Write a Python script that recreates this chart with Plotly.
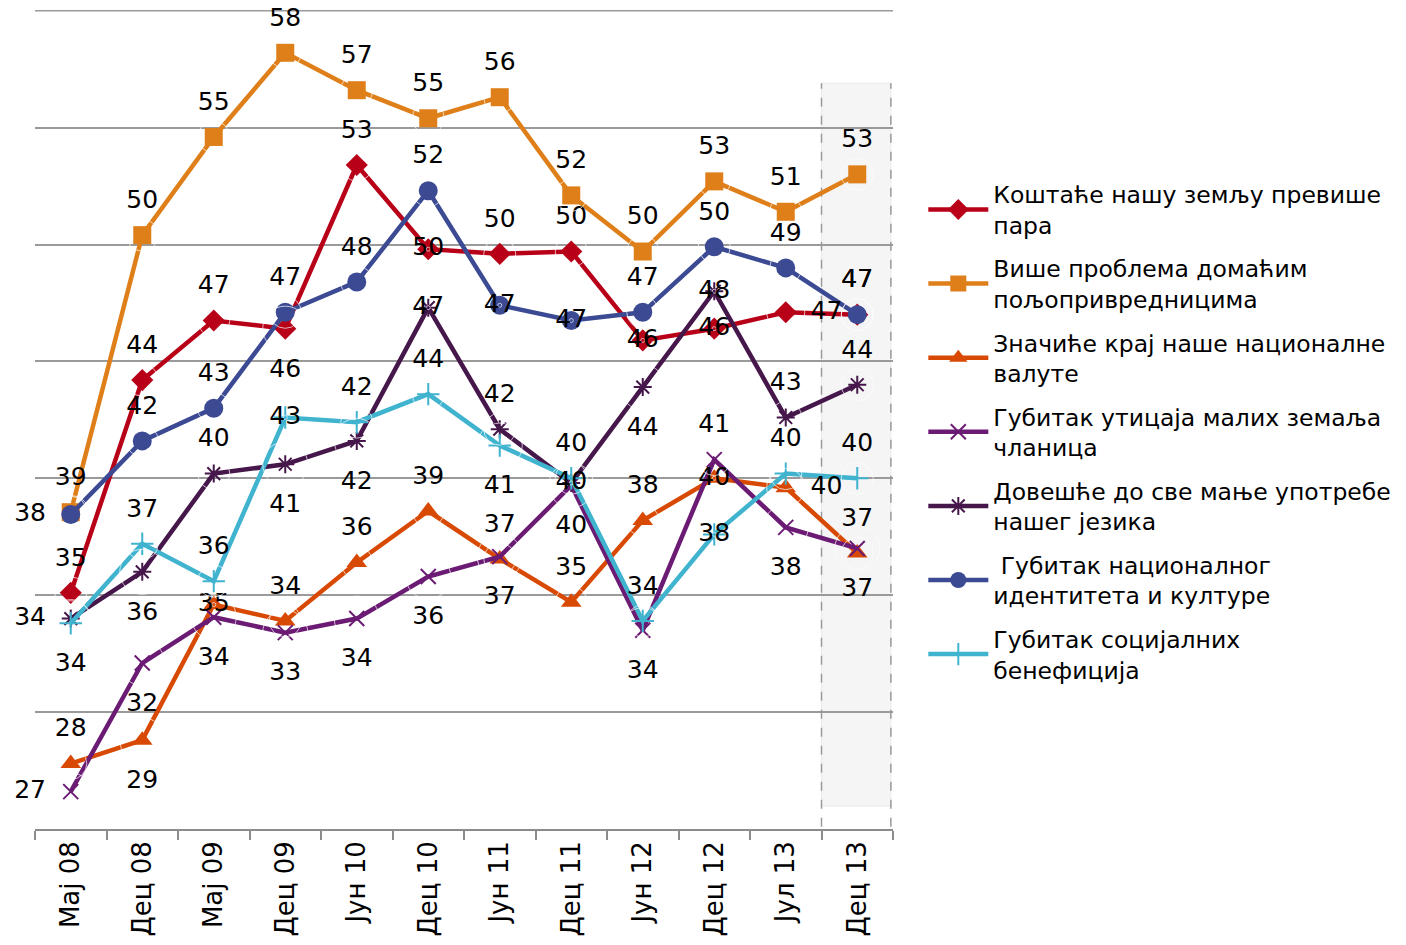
import plotly.graph_objects as go

categories = ["Мај 08", "Дец 08", "Мај 09", "Дец 09", "Јун 10", "Дец 10",
              "Јун 11", "Дец 11", "Јун 12", "Дец 12", "Јул 13", "Дец 13"]

names = [
    "Коштаће нашу земљу превише<br>пара",
    "Више проблема домаћим<br>пољопривредницима",
    "Значиће крај наше националне<br>валуте",
    "Губитак утицаја малих земаља<br>чланица",
    "Довешће до све мање употребе<br>нашег језика",
    " Губитак националног<br>идентитета и културе",
    "Губитак социјалних<br>бенефиција",
]

kostace = [35.1, 44.2, 46.75, 46.4, 53.4, 49.8, 49.6, 49.7, 45.9, 46.4, 47.1, 47.0]
vise_problema = [38.55, 50.4, 54.6, 58.2, 56.6, 55.4, 56.3, 52.1, 49.7, 52.7, 51.4, 53.0]
valuta = [27.8, 28.8, 34.6, 33.9, 36.4, 38.6, 36.55, 34.7, 38.2, 40.0, 39.6, 36.8]
uticaj = [26.6, 32.1, 34.06, 33.4, 34.0, 35.8, 36.65, 39.7, 33.5, 40.8, 37.9, 37.0]
jezik = [34.0, 36.0, 40.2, 40.6, 41.6, 47.3, 42.1, 39.8, 43.9, 48.0, 42.6, 44.0]
identitet = [38.45, 41.6, 43.0, 47.1, 48.4, 52.3, 47.4, 46.75, 47.1, 49.9, 49.0, 47.0]
socijalne = [33.8, 37.2, 35.6, 42.6, 42.4, 43.6, 41.4, 40.0, 33.9, 37.6, 40.2, 40.0]

T, B, L, R, C = "top center", "bottom center", "middle left", "middle right", "middle center"
pos_kostace = [T, T, T, B, T, C, T, T, C, C, R, T]
pos_vise = [T, T, T, T, T, T, T, T, T, T, T, T]
pos_valuta = [T, B, C, T, T, T, T, T, T, C, R, T]
pos_uticaj = [L, B, B, B, B, B, B, B, B, T, B, B]
pos_jezik = [L, B, T, B, B, C, T, C, B, C, T, T]
pos_identitet = [L, T, T, T, T, T, C, C, T, T, T, T]
pos_socijalne = [B, T, T, C, T, T, B, T, T, C, T, T]

series = [
    (kostace, pos_kostace, "#B80018", dict(symbol="diamond", size=17)),
    (vise_problema, pos_vise, "#DF7F1A", dict(symbol="square", size=18)),
    (valuta, pos_valuta, "#D84A04", dict(symbol="triangle-up", size=18)),
    (uticaj, pos_uticaj, "#6B1B73", dict(symbol="x-thin-open", size=15, line=dict(width=2, color="#6B1B73"))),
    (jezik, pos_jezik, "#45174A", dict(symbol="asterisk-open", size=15, line=dict(width=2, color="#45174A"))),
    (identitet, pos_identitet, "#3B4A93", dict(symbol="circle", size=19)),
    (socijalne, pos_socijalne, "#40B3CF", dict(symbol="cross-thin-open", size=16, line=dict(width=2, color="#40B3CF"))),
]

# invisible marker size used only to push a label away from its point
offset_size = {T: 32, B: 45, L: 38, R: 38, C: 4}

fig = go.Figure()

for i, (vals, pos, color, marker) in enumerate(series):
    m = dict(color=color)
    m.update(marker)
    fig.add_trace(go.Scatter(
        x=categories, y=vals, name=names[i], mode="lines+markers",
        line=dict(color=color, width=4.5),
        marker=m,
        legendgroup=f"g{i}",
        cliponaxis=False,
    ))

for i, (vals, pos, color, marker) in enumerate(series):
    fig.add_trace(go.Scatter(
        x=categories, y=vals, mode="markers+text", showlegend=False,
        marker=dict(size=[offset_size[p] for p in pos], color="rgba(0,0,0,0)"),
        texttemplate="%{y:.0f}",
        textposition=pos,
        textfont=dict(family="DejaVu Sans", size=25, color="black"),
        legendgroup=f"g{i}",
        hoverinfo="skip",
        cliponaxis=False,
    ))

# shaded highlight for the last period
fig.add_shape(type="rect", xref="x", yref="y", x0=10.5, x1=11.47, y0=25.98, y1=56.9,
              fillcolor="#F5F5F5", line=dict(width=0.8, color="#E6E6E6"), layer="below")
for xv in (10.5, 11.47):
    fig.add_shape(type="line", xref="x", yref="y", x0=xv, x1=xv, y0=25.1, y1=56.9,
                  line=dict(color="#9A9A9A", width=1.5, dash="dash"), layer="below")
# top gridline (at the upper edge of the value range)
fig.add_shape(type="line", xref="paper", yref="y", x0=0, x1=1, y0=60, y1=60,
              line=dict(color="#9A9A9A", width=1.5), layer="below")

fig.update_layout(
    width=1406, height=945,
    margin=dict(l=27, r=521, t=2, b=124, autoexpand=False),
    paper_bgcolor="white", plot_bgcolor="white",
    font=dict(family="DejaVu Sans", size=22, color="black"),
    showlegend=True,
    legend=dict(
        xref="container", yref="container", x=0.651, y=0.826,
        xanchor="left", yanchor="top",
        font=dict(family="DejaVu Sans", size=23.5, color="black"),
        tracegroupgap=10, itemwidth=60, bgcolor="rgba(0,0,0,0)",
        traceorder="grouped", maxheight=1,
    ),
    xaxis=dict(
        type="category", range=[-0.5, 11.5], showgrid=False, automargin=False,
        showline=True, linecolor="#8C8C8C", linewidth=1.5,
        ticks="outside", tickson="boundaries", ticklen=9, tickcolor="#8C8C8C", tickwidth=1.5,
        tickangle=-90, tickfont=dict(family="DejaVu Sans", size=26, color="black"),
        zeroline=False,
    ),
    yaxis=dict(
        range=[25, 60.03], dtick=5, tick0=25, showgrid=True, gridcolor="#9A9A9A", gridwidth=1.5,
        showticklabels=False, ticks="", zeroline=False, showline=False, automargin=False,
    ),
)

fig.write_html("out.html")
